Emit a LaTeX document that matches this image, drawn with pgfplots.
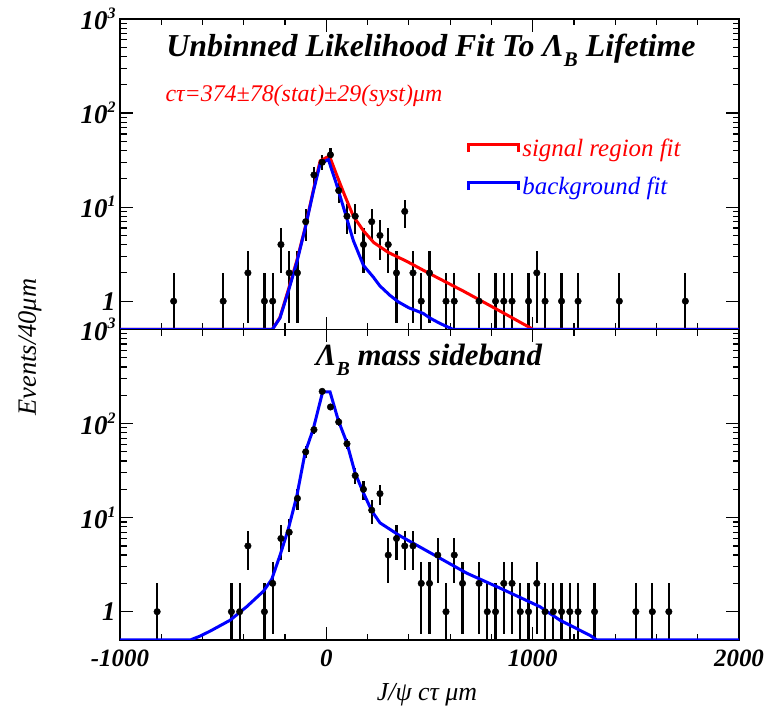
\documentclass[border=0pt]{standalone}
\usepackage{pgfplots}
\pgfplotsset{compat=1.18}
\usepackage{pgfplotstable}
\usepackage{fontspec}
\setmainfont{Liberation Serif}

% top panel: signal region, J/psi c tau (um), events per 40 um
\pgfplotstableread{
x y ep em
-740 1 1 0.99
-500 1 1 0.99
-380 2 1.414 1.414
-300 1 1 0.99
-260 1 1 0.99
-220 4 2 2
-180 2 1.414 1.414
-140 2 1.414 1.414
-100 7 2.646 2.646
-60 22 4.690 4.690
-20 30 5.477 5.477
20 36 6 6
60 15 3.873 3.873
100 8 2.828 2.828
140 8 2.828 2.828
180 4 2 2
220 7 2.646 2.646
260 5 2.236 2.236
300 4 2 2
340 2 1.414 1.414
380 9 3 3
420 2 1.414 1.414
460 1 1 0.99
500 2 1.414 1.414
580 1 1 0.99
620 1 1 0.99
740 1 1 0.99
820 1 1 0.99
860 1 1 0.99
900 1 1 0.99
980 1 1 0.99
1020 2 1.414 1.414
1060 1 1 0.99
1140 1 1 0.99
1220 1 1 0.99
1420 1 1 0.99
1740 1 1 0.99
}\topdata

% bottom panel: Lambda_B mass sideband
\pgfplotstableread{
x y ep em
-820 1 1 0.99
-460 1 1 0.99
-420 1 1 0.99
-380 5 2.236 2.236
-300 1 1 0.99
-260 2 1.414 1.414
-220 6 2.449 2.449
-180 7 2.646 2.646
-140 16 4 4
-100 50 7.071 7.071
-60 86 9.274 9.274
-20 220 14.832 14.832
20 150 12.247 12.247
60 104 10.198 10.198
100 61 7.810 7.810
140 28 5.292 5.292
180 20 4.472 4.472
220 12 3.464 3.464
260 18 4.243 4.243
300 4 2 2
340 6 2.449 2.449
380 5 2.236 2.236
420 5 2.236 2.236
460 2 1.414 1.414
500 2 1.414 1.414
540 4 2 2
580 1 1 0.99
620 4 2 2
660 2 1.414 1.414
740 2 1.414 1.414
780 1 1 0.99
820 1 1 0.99
860 2 1.414 1.414
900 2 1.414 1.414
940 1 1 0.99
980 1 1 0.99
1020 2 1.414 1.414
1060 1 1 0.99
1100 1 1 0.99
1140 1 1 0.99
1180 1 1 0.99
1220 1 1 0.99
1300 1 1 0.99
1500 1 1 0.99
1580 1 1 0.99
1660 1 1 0.99
}\botdata

\newcommand\tp[1]{10\raisebox{0.42em}{\fontsize{16}{16}\selectfont #1}}

\begin{document}
\begin{tikzpicture}
\useasboundingbox (0bp,0bp) rectangle (764bp,707bp);

% ---------------- top panel ----------------
\begin{axis}[
    at={(120bp,377.5bp)}, anchor=south west, scale only axis,
    width=619bp, height=310.5bp,
    xmin=-1000, xmax=2000, ymode=log, ymin=0.5, ymax=1000,
    axis line style={line width=1.9bp},
    tick align=inside, major tick length=13bp, minor tick length=6.5bp,
    every tick/.style={black, line width=1.2bp},
    xtick={-1000,0,1000,2000}, minor x tick num=4,
    ytick={1,10,100,1000}, yticklabels={\textit{1},\tp{1},\tp{2},\tp{3}},
    tick label style={font=\fontsize{27}{27}\selectfont\bfseries\itshape},
    yticklabel style={xshift=-1bp},
    scaled x ticks=false,
    xticklabels={},
  legend style={at={(0.556,0.628)}, anchor=north west, draw=none, fill=none,
    font=\fontsize{25}{25}\selectfont\itshape, row sep=15bp},
  legend cell align=left,
  legend image code/.code={\draw[#1] (0bp,-4bp) -- (0bp,4bp) -- (50bp,4bp) -- (50bp,-4bp);},
]
\addplot[forget plot, only marks, mark=*, mark size=3.3bp, black,
    error bars/.cd, y dir=both, y explicit, error mark=none,
    error bar style={line width=2.2bp, black}]
  table[x=x, y=y, y error plus=ep, y error minus=em] {\topdata};
\addplot[line width=3bp, red] coordinates {
(-1000,0.5) (-262,0.5) (-225,0.67) (-183,1.35) (-143,2.7) (-103,6.0) (-62,15.5)
(-30,31) (15,35) (50,22) (91,13) (131,8.0) (180,5.6) (230,4.2) (300,3.3)
(390,2.65) (503,1.95) (664,1.28) (826,0.82) (1003,0.5) (2000,0.5)};
\addlegendentry{\textcolor{red}{signal region fit}}
\addplot[line width=3bp, blue] coordinates {
(-1000,0.5) (-262,0.5) (-225,0.66) (-183,1.3) (-143,2.6) (-103,5.9) (-62,15)
(-30,29) (10,32) (50,17.3) (91,8.7) (131,4.4) (180,2.4) (228,1.8) (260,1.45)
(309,1.15) (350,0.98) (400,0.85) (470,0.74) (503,0.66) (551,0.58) (615,0.5) (2000,0.5)};
\addlegendentry{\textcolor{blue}{background fit}}
\end{axis}

% ---------------- bottom panel ----------------
\begin{axis}[
    at={(120bp,67bp)}, anchor=south west, scale only axis,
    width=619bp, height=310.5bp,
    xmin=-1000, xmax=2000, ymode=log, ymin=0.5, ymax=1000,
    axis line style={line width=1.9bp},
    tick align=inside, major tick length=13bp, minor tick length=6.5bp,
    every tick/.style={black, line width=1.2bp},
    xtick={-1000,0,1000,2000}, minor x tick num=4,
    ytick={1,10,100,1000}, yticklabels={\textit{1},\tp{1},\tp{2},\tp{3}},
    tick label style={font=\fontsize{27}{27}\selectfont\bfseries\itshape},
    yticklabel style={xshift=-1bp},
    scaled x ticks=false,
    xticklabels={-1000,0,1000,2000},
    xticklabel style={yshift=-6bp, font=\fontsize{25}{25}\selectfont\bfseries\itshape},
]
\addplot[only marks, mark=*, mark size=3.3bp, black,
    error bars/.cd, y dir=both, y explicit, error mark=none,
    error bar style={line width=2.2bp, black}]
  table[x=x, y=y, y error plus=ep, y error minus=em] {\botdata};
\addplot[line width=3bp, blue] coordinates {
(-1000,0.5) (-660,0.5) (-612,0.55) (-564,0.62) (-467,0.81) (-386,1.13) (-305,1.65)
(-265,2.2) (-224,4.0) (-184,7.6) (-143,17) (-103,49) (-63,88) (-18,217) (18,217)
(58,108) (99,63) (139,30) (179,18.5) (220,11.8) (260,8.8) (357,6.4) (519,4.05)
(680,2.57) (842,1.78) (1035,1.13) (1133,0.81) (1278,0.56) (1311,0.5) (2000,0.5)};
\end{axis}

% ---------------- texts ----------------
\node[anchor=base, font=\fontsize{32}{32}\selectfont\bfseries\itshape] at (431bp,650bp)
  {Unbinned Likelihood Fit To Λ\raisebox{-0.3em}{\fontsize{21}{21}\selectfont B} Lifetime};
\node[anchor=base west, text=red, font=\fontsize{24}{24}\selectfont\itshape] at (162bp,605bp)
  {cτ=374±78(stat)±29(syst)μm};
\node[anchor=base, font=\fontsize{31}{31}\selectfont\bfseries\itshape] at (429bp,341bp)
  {Λ\raisebox{-0.3em}{\fontsize{20}{20}\selectfont B} mass sideband};
\node[anchor=center, rotate=90, font=\fontsize{26.5}{26.5}\selectfont\itshape] at (30bp,360bp)
  {Events/40μm};
\node[anchor=base, font=\fontsize{26}{26}\selectfont\itshape] at (427bp,7bp)
  {J/ψ cτ μm};
\end{tikzpicture}
\end{document}
